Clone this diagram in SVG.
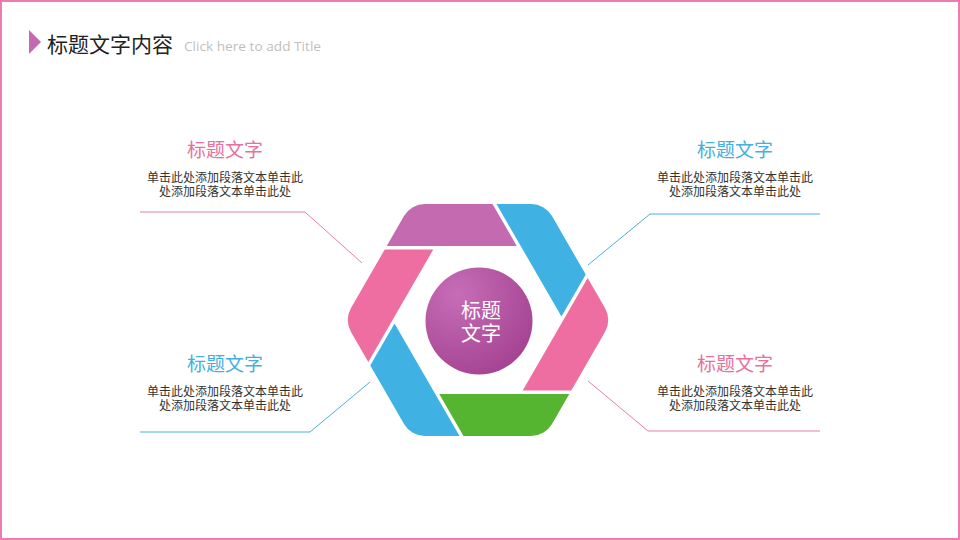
<svg xmlns="http://www.w3.org/2000/svg" width="960" height="540" viewBox="0 0 960 540">
<defs>
<style>
.cjk{font-family:"Noto Sans CJK SC","Noto Sans",sans-serif}
.ttl{font-size:19px;text-anchor:middle}
.body{font-size:12px;fill:#333333;text-anchor:middle}
.pink{fill:#E8709F}
.blue{fill:#45B0DE}
.lp{fill:none;stroke:#E57FA8;stroke-width:1}
.lb{fill:none;stroke:#4BB0D9;stroke-width:1}
</style>
<clipPath id="hex">
<path d="M-53,-116 L53,-116 A24.25,24.25 0 0 1 74,-103.88 L127,-12.12 A24.25,24.25 0 0 1 127,12.12 L74,103.88 A24.25,24.25 0 0 1 53,116 L-53,116 A24.25,24.25 0 0 1 -74,103.88 L-127,12.12 A24.25,24.25 0 0 1 -127,-12.12 L-74,-103.88 A24.25,24.25 0 0 1 -53,-116 Z"/>
</clipPath>
<path id="seg" d="M10.5,-122.9 L38.75,-74 L-99.25,-74 L-72,-124.7 Z"/>
<radialGradient id="cg" cx="0.3" cy="0.25" r="0.9">
<stop offset="0" stop-color="#C76DB7"/>
<stop offset="1" stop-color="#A13F8E"/>
</radialGradient>
</defs>
<rect x="0" y="0" width="960" height="540" fill="#FFFFFF"/>
<rect x="1" y="1" width="958" height="538" fill="none" stroke="#EE7CB0" stroke-width="2"/>
<g id="header">
<polygon points="29,30 41,42 29,54" fill="#C36AB1"/>
<text x="47" y="51.5" class="cjk" font-size="21" fill="#222222">标题文字内容</text>
<text x="184" y="51" font-family="'Open Sans','Noto Sans',sans-serif" font-size="13" fill="#BFBFBF" textLength="137" lengthAdjust="spacingAndGlyphs">Click here to add Title</text>
</g>
<g id="connectors">
<polyline class="lp" points="140,212 305,212 362,263"/>
<polyline class="lb" points="140,432 310,432 370,382"/>
<polyline class="lb" points="820,214 650,214 588,265"/>
<polyline class="lp" points="820,431 648,431 588,381"/>
</g>
<g id="hexagon" transform="translate(478,320)" clip-path="url(#hex)">
<use href="#seg" fill="#C36AB1"/>
<use href="#seg" fill="#3FB1E3" transform="rotate(60)"/>
<use href="#seg" fill="#EE6EA1" transform="rotate(120)"/>
<use href="#seg" fill="#55B530" transform="rotate(180)"/>
<use href="#seg" fill="#3FB1E3" transform="rotate(240)"/>
<use href="#seg" fill="#EE6EA1" transform="rotate(300)"/>
</g>
<g id="center">
<circle cx="479" cy="321" r="53.5" fill="url(#cg)"/>
<text x="481" y="318" class="cjk" font-size="20" fill="#FFFFFF" text-anchor="middle">标题</text>
<text x="481" y="341" class="cjk" font-size="20" fill="#FFFFFF" text-anchor="middle">文字</text>
</g>
<g id="node-tl" class="cjk">
<text x="225" y="157" class="ttl pink">标题文字</text>
<text x="225" y="182" class="body">单击此处添加段落文本单击此</text>
<text x="225" y="196" class="body">处添加段落文本单击此处</text>
</g>
<g id="node-bl" class="cjk">
<text x="225" y="371" class="ttl blue">标题文字</text>
<text x="225" y="396" class="body">单击此处添加段落文本单击此</text>
<text x="225" y="410" class="body">处添加段落文本单击此处</text>
</g>
<g id="node-tr" class="cjk">
<text x="735" y="157" class="ttl blue">标题文字</text>
<text x="735" y="182" class="body">单击此处添加段落文本单击此</text>
<text x="735" y="196" class="body">处添加段落文本单击此处</text>
</g>
<g id="node-br" class="cjk">
<text x="735" y="371" class="ttl pink">标题文字</text>
<text x="735" y="396" class="body">单击此处添加段落文本单击此</text>
<text x="735" y="410" class="body">处添加段落文本单击此处</text>
</g>
</svg>
